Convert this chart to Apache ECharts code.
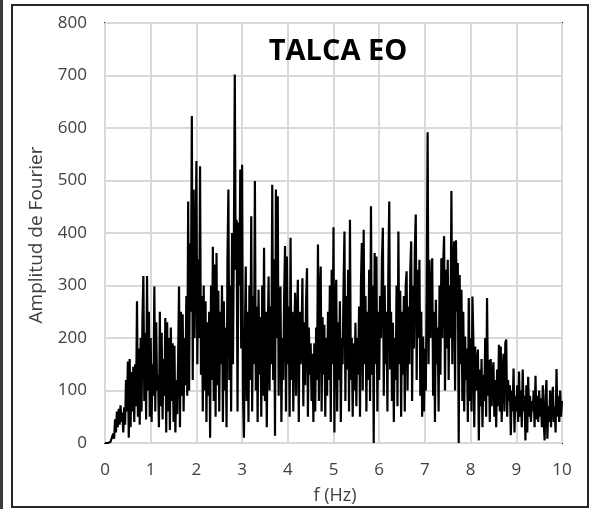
<!DOCTYPE html>
<html>
<head>
<meta charset="utf-8">
<title>TALCA EO</title>
<script src="https://cdn.jsdelivr.net/npm/echarts/dist/echarts.min.js"></script>
<style>
  html, body { margin: 0; padding: 0; background: #fff; }
  #chart { width: 599px; height: 509px; }
</style>
</head>
<body>
<div id="chart"></div>
<script>
// Fourier amplitude spectrum, station TALCA EO; bins spaced by df (Hz)
const df = 0.02;

// Amplitudes per 1 Hz band (50 bins each, last band includes 10.00 Hz)
const band0 = [0,0,0,0,0,0,2,5,0,18,8,45,20,60,30,65,35,72,40,58,20,68,35,120,60,
               155,10,160,30,135,60,145,40,150,70,270,50,180,35,200,60,240,318,80,210,45,318,100,250,50];
const band1 = [200,40,150,90,298,60,230,100,130,30,250,70,210,45,160,90,238,20,230,60,200,25,220,80,190,
               40,185,20,120,55,160,298,30,250,90,245,60,200,110,280,90,460,100,380,250,623,120,483,200,340];
const band2 = [537,150,350,200,527,130,280,60,300,100,270,40,230,90,250,10,300,120,374,80,340,50,362,110,290,
               60,250,150,300,40,270,100,220,30,350,483,120,300,60,400,150,380,702,330,425,60,420,300,521,180];
const band3 = [530,90,10,200,336,80,250,40,300,120,432,60,280,150,499,100,260,40,292,130,240,50,300,90,372,
               80,250,30,200,317,100,260,150,492,120,350,14,483,200,470,90,250,298,40,200,120,280,375,60,355];
const band4 = [150,260,50,391,120,250,60,200,286,90,230,311,40,250,150,200,314,70,230,110,270,333,50,220,130,
               190,80,170,40,190,60,220,120,378,80,280,336,60,240,130,225,50,200,90,250,120,300,40,330,150];
const band5 = [411,20,260,311,60,230,120,270,40,200,150,300,403,80,280,140,330,60,425,120,200,50,190,100,229,
               70,200,130,260,50,300,381,100,406,150,280,60,250,120,330,80,451,130,300,0,362,150,355,60,250];
const band6 = [120,280,200,350,410,90,300,150,250,60,330,460,140,250,80,229,40,200,120,300,70,403,150,290,50,
               250,130,280,60,300,327,100,260,150,330,384,80,300,180,370,435,120,330,200,349,90,250,50,203,60];
const band7 = [180,100,300,592,150,349,200,280,352,90,250,40,273,150,220,60,300,130,352,200,340,394,100,330,180,
               349,120,300,200,480,150,330,384,100,386,250,343,0,320,150,292,80,250,60,203,120,180,40,276,80];
const band8 = [200,60,279,200,30,184,100,150,178,5,140,70,160,30,130,80,200,50,276,90,158,40,160,70,130,
               154,50,120,30,140,70,187,60,184,40,130,170,60,191,197,50,120,80,110,15,100,60,142,20,90];
const band9 = [60,110,40,136,50,100,30,140,60,90,5,110,20,126,50,90,40,80,60,100,30,128,45,90,40,
               100,50,85,30,110,40,5,90,120,8,70,40,100,30,80,107,40,70,20,141,50,90,40,100,50,80];

const xTicks = [0, 10, 1];      // min, max, step (Hz)
const yTicks = [0, 800, 100];   // min, max, step

const amplitudes = [].concat(band0, band1, band2, band3, band4, band5, band6, band7, band8, band9);
const spectrum = amplitudes.map((a, i) => [+(i * df).toFixed(2), a]);

const FONT = '"Open Sans", "Noto Sans", sans-serif';
const chart = echarts.init(document.getElementById('chart'), null, { renderer: 'canvas' });

chart.setOption({
  animation: false,
  backgroundColor: '#ffffff',
  grid: {
    left: 105, right: 37, top: 23, bottom: 66,
    show: true, borderColor: '#1a1a1a', borderWidth: 2, backgroundColor: 'transparent'
  },
  xAxis: {
    type: 'value', min: xTicks[0], max: xTicks[1], interval: xTicks[2],
    axisLine: { show: false },
    axisTick: { show: false },
    splitLine: { show: true, lineStyle: { color: '#d9d9d9', width: 2 } },
    axisLabel: { color: '#404040', fontFamily: FONT, fontSize: 17, margin: 19 }
  },
  yAxis: {
    type: 'value', min: yTicks[0], max: yTicks[1], interval: yTicks[2],
    axisLine: { show: false },
    axisTick: { show: false },
    splitLine: { show: true, lineStyle: { color: '#d9d9d9', width: 2 } },
    axisLabel: { color: '#404040', fontFamily: FONT, fontSize: 17, margin: 18 }
  },
  series: [{
    type: 'line',
    data: spectrum,
    showSymbol: false,
    sampling: false,
    lineStyle: { color: '#000000', width: 2.2 },
    z: 3
  }],
  graphic: [
    { type: 'rect', left: 0, top: 0, shape: { width: 3, height: 509 }, style: { fill: '#3a3a3a' }, silent: true },
    { type: 'rect', shape: { x: 12, y: 5, width: 576, height: 502 },
      style: { fill: 'none', stroke: '#262626', lineWidth: 2 }, silent: true },
    { type: 'text', x: 338, y: 52, z: 10,
      style: { text: 'TALCA EO', fill: '#000', font: 'bold 29px ' + FONT, textAlign: 'center', textVerticalAlign: 'middle' } },
    { type: 'text', x: 37, y: 235, rotation: Math.PI / 2, z: 10,
      style: { text: 'Amplitud de Fourier', fill: '#404040', font: '19px ' + FONT, textAlign: 'center', textVerticalAlign: 'middle' } },
    { type: 'text', x: 335, y: 496, z: 10,
      style: { text: 'f (Hz)', fill: '#404040', font: '18px ' + FONT, textAlign: 'center', textVerticalAlign: 'middle' } }
  ]
});
</script>
</body>
</html>
